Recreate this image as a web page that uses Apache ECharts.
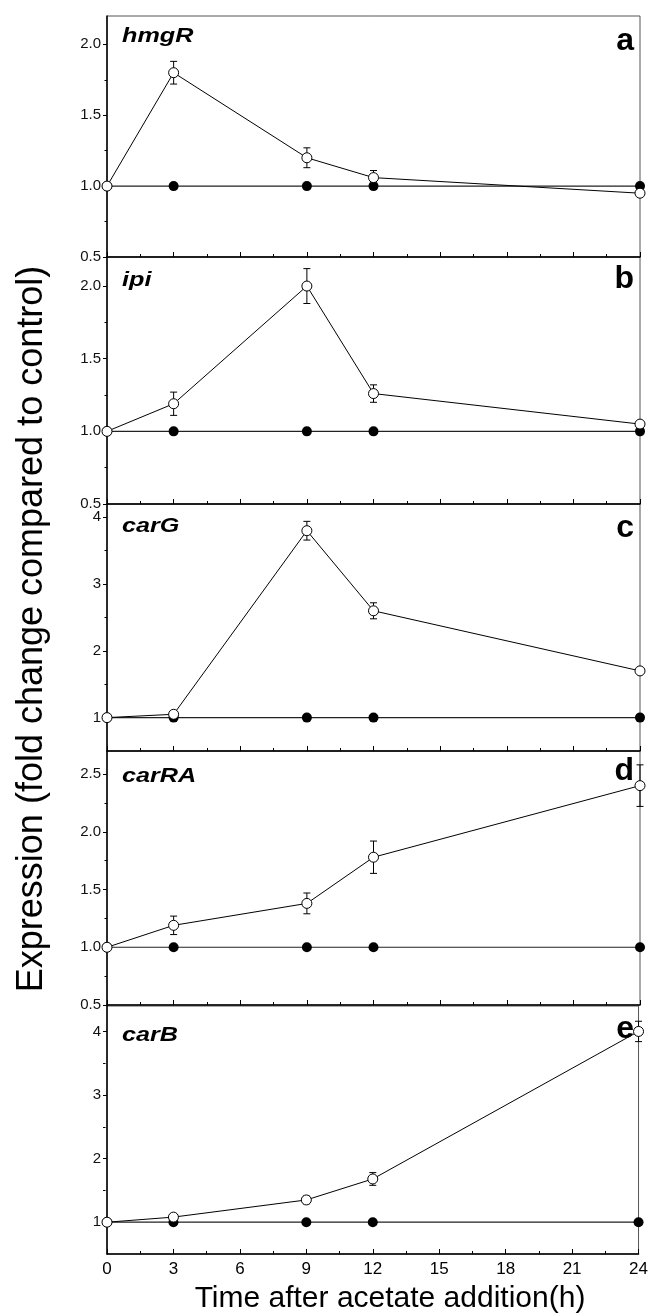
<!DOCTYPE html>
<html>
<head>
<meta charset="utf-8">
<script src="https://cdn.jsdelivr.net/npm/echarts@6/dist/echarts.min.js"></script>
<style>
html,body{margin:0;padding:0;background:#fff;}
#chart{width:651px;height:1313px;}
</style>
</head>
<body>
<div id="chart"></div>
<script>
// data
var times = [0, 3, 9, 12, 24];
var genes = ['hmgR', 'ipi', 'carG', 'carRA', 'carB'];
var letters = ['a', 'b', 'c', 'd', 'e'];
var control = [1, 1, 1, 1, 1];

var hmgR = [1.00, 1.80, 1.20, 1.06, 0.95];
var hmgRErr = [0, 0.08, 0.07, 0.05, 0];
var ipi = [1.00, 1.19, 2.00, 1.26, 1.05];
var ipiErr = [0, 0.08, 0.12, 0.06, 0];
var carG = [1.00, 1.05, 3.80, 2.60, 1.70];
var carGErr = [0, 0, 0.14, 0.12, 0];
var carRA = [1.00, 1.19, 1.38, 1.78, 2.40];
var carRAErr = [0, 0.08, 0.09, 0.14, 0.18];
var carB = [1.00, 1.08, 1.35, 1.68, 4.00];
var carBErr = [0, 0.03, 0.06, 0.10, 0.16];

var treated = [hmgR, ipi, carG, carRA, carB];
var errors = [hmgRErr, ipiErr, carGErr, carRAErr, carBErr];

var yMin = [0.5, 0.5, 0.5, 0.5, 0.5];
var yMax = [2.2, 2.2, 4.2, 2.7, 4.4];
var yLabels = [
	[0.5, 1.0, 1.5, 2.0],
	[0.5, 1.0, 1.5, 2.0],
	[1, 2, 3, 4],
	[0.5, 1.0, 1.5, 2.0, 2.5],
	[1, 2, 3, 4]
];
var yMinor = [
	[0.75, 1.25, 1.75],
	[0.75, 1.25, 1.75],
	[1.5, 2.5, 3.5],
	[0.75, 1.25, 1.75, 2.25],
	[1.5, 2.5, 3.5]
];
var yDecimals = [1, 1, 0, 1, 0];

// layout
var gridLeft = 107, gridRight = 11;
var gridWidth = 651 - gridLeft - gridRight;
var gridTops = [16, 257, 504, 751, 1006];
var gridHeights = [241, 247, 247, 254, 248];
var geneBase = [27, 30, 29, 32, 36];
var letterBase = [36, 33, 35, 31, 34];

var FONT = '"Liberation Sans", Arial, sans-serif';

var grids = [], xAxes = [], yAxes = [], series = [], graphics = [];

function errRender(params, api){
	var x = api.value(0), lo = api.value(1), hi = api.value(2);
	var p1 = api.coord([x, hi]), p2 = api.coord([x, lo]);
	var w = 3.5;
	var st = {stroke: '#000', lineWidth: 1};
	return {type: 'group', children: [
		{type: 'line', shape: {x1: p1[0], y1: p1[1], x2: p2[0], y2: p2[1]}, style: st},
		{type: 'line', shape: {x1: p1[0] - w, y1: p1[1], x2: p1[0] + w, y2: p1[1]}, style: st},
		{type: 'line', shape: {x1: p2[0] - w, y1: p2[1], x2: p2[0] + w, y2: p2[1]}, style: st}
	]};
}

for (var i = 0; i < 5; i++) {
	grids.push({
		left: gridLeft, width: gridWidth, top: gridTops[i], height: gridHeights[i],
		show: true, borderColor: '#555', borderWidth: 1, containLabel: false
	});
	xAxes.push({
		type: 'value', gridIndex: i, min: 0, max: 24, interval: 3,
		axisLine: {lineStyle: {color: '#000', width: 1.5}},
		axisTick: {inside: true, length: 5, lineStyle: {color: '#000', width: 1}},
		minorTick: {show: true, splitNumber: 2, length: 3, lineStyle: {color: '#000', width: 1}},
		splitLine: {show: false},
		minorSplitLine: {show: false},
		axisLabel: {show: i === 4, fontSize: 17, color: '#000', margin: 7, fontFamily: FONT}
	});
	(function(dec){
		yAxes.push({
			type: 'value', gridIndex: i, min: yMin[i], max: yMax[i], position: 'left',
			axisLine: {show: true, lineStyle: {color: '#000', width: 1.5}},
			axisTick: {customValues: yLabels[i], length: 4, lineStyle: {color: '#000', width: 1}},
			axisLabel: {
				customValues: yLabels[i], fontSize: 15, color: '#111', margin: 6, fontFamily: FONT,
				formatter: function(v){ return v.toFixed(dec); }
			},
			splitLine: {show: false}
		});
	})(yDecimals[i]);
	// minor ticks: second axis moved back onto the left edge
	yAxes.push({
		type: 'value', gridIndex: i, min: yMin[i], max: yMax[i], position: 'right',
		offset: -gridWidth,
		axisLine: {show: false},
		axisTick: {customValues: yMinor[i], inside: true, length: 2.5, lineStyle: {color: '#000', width: 1}},
		axisLabel: {show: false},
		splitLine: {show: false}
	});

	var errData = [];
	for (var k = 0; k < times.length; k++) {
		if (errors[i][k] > 0) {
			errData.push([times[k], treated[i][k] - errors[i][k], treated[i][k] + errors[i][k]]);
		}
	}
	series.push({
		type: 'custom', xAxisIndex: i, yAxisIndex: 2 * i, z: 1,
		renderItem: errRender, encode: {x: 0, y: [1, 2]}, data: errData, silent: true
	});
	series.push({
		type: 'line', xAxisIndex: i, yAxisIndex: 2 * i, z: 2,
		data: times.map(function(t, k){ return [t, control[k]]; }),
		symbol: 'circle', symbolSize: 10,
		itemStyle: {color: '#000'},
		lineStyle: {color: '#222', width: 1.2}
	});
	series.push({
		type: 'line', xAxisIndex: i, yAxisIndex: 2 * i, z: 3,
		data: times.map(function(t, k){ return [t, treated[i][k]]; }),
		symbol: 'circle', symbolSize: 10,
		itemStyle: {color: '#fff', borderColor: '#000', borderWidth: 1},
		lineStyle: {color: '#000', width: 1}
	});

	graphics.push({
		type: 'text', x: 122, y: gridTops[i] + geneBase[i] - 7, scaleX: 1.2, z: 10,
		style: {text: genes[i], fontSize: 21, fontWeight: 'bold', fontStyle: 'italic',
			fontFamily: FONT, fill: '#000', textAlign: 'left', textVerticalAlign: 'middle'}
	});
	graphics.push({
		type: 'text', x: 634, y: gridTops[i] + letterBase[i] - 11, z: 10,
		style: {text: letters[i], fontSize: 32, fontWeight: 'bold',
			fontFamily: FONT, fill: '#000', textAlign: 'right', textVerticalAlign: 'middle'}
	});
}

graphics.push({
	type: 'text', x: 32, y: 629, rotation: Math.PI / 2,
	style: {text: 'Expression (fold change compared to control)', fontSize: 36,
		fontFamily: FONT, fill: '#000', textAlign: 'center', textVerticalAlign: 'middle'}
});
graphics.push({
	type: 'text', x: 390, y: 1299,
	style: {text: 'Time after acetate addition(h)', fontSize: 30,
		fontFamily: FONT, fill: '#000', textAlign: 'center', textVerticalAlign: 'middle'}
});

var chart = echarts.init(document.getElementById('chart'));
chart.setOption({
	animation: false,
	backgroundColor: '#fff',
	grid: grids,
	xAxis: xAxes,
	yAxis: yAxes,
	series: series,
	graphic: graphics
});
</script>
</body>
</html>
